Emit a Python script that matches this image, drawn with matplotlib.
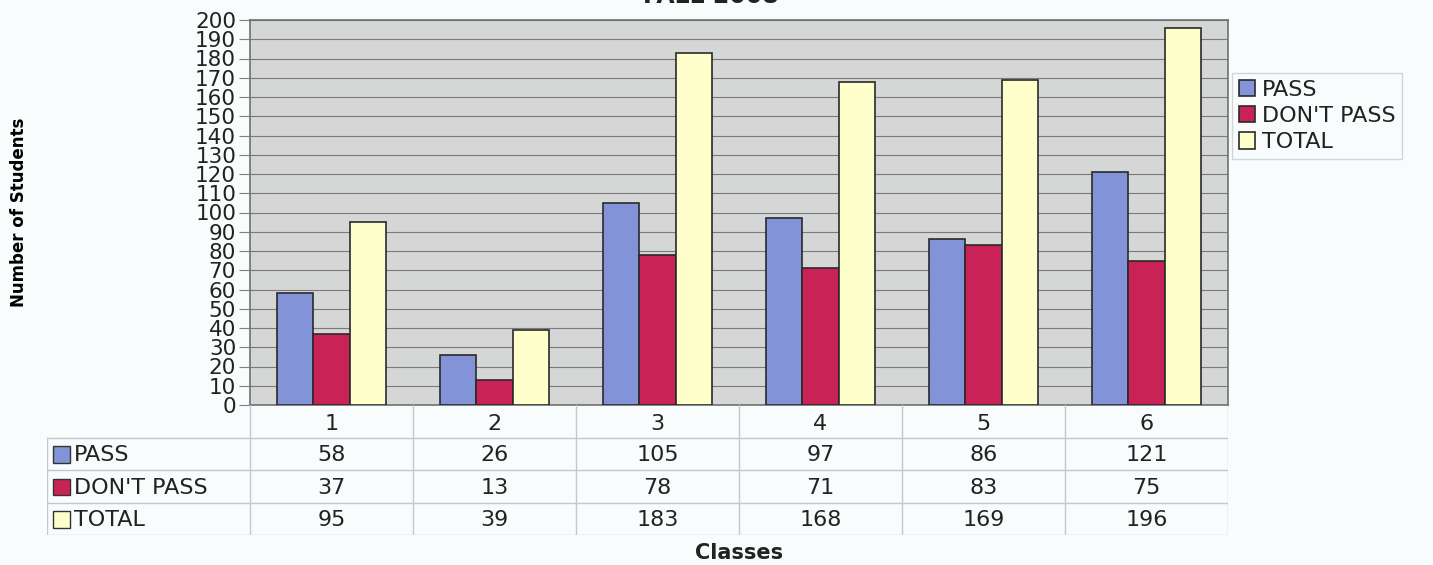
import numpy as np
import matplotlib.pyplot as plt
from matplotlib.patches import Rectangle

plt.rcParams['font.family'] = ['DejaVu Sans']

classes = ['1', '2', '3', '4', '5', '6']
series = ['PASS', "DON'T PASS", 'TOTAL']
passed = [58, 26, 105, 97, 86, 121]
not_passed = [37, 13, 78, 71, 83, 75]
total = [95, 39, 183, 168, 169, 196]
colors = ['#8393d8', '#c92257', '#ffffcc']

W, H = 1433, 565
fig = plt.figure(figsize=(W / 100, H / 100), dpi=100)
fig.patch.set_facecolor('#f9fcfd')
FS = 16

def box(x0, y0, x1, y1):
    # pixel box (top-left origin) -> figure fraction
    return [x0 / W, 1 - y1 / H, (x1 - x0) / W, (y1 - y0) / H]

# main bar chart
ax = fig.add_axes(box(250, 20, 1228, 405))
ax.set_facecolor('#d5d6d6')
x = np.arange(len(classes))
bw = 0.222
for i, (vals, c) in enumerate(zip([passed, not_passed, total], colors)):
    ax.bar(x + (i - 1) * bw, vals, bw, color=c, edgecolor='#2a2a2a',
           linewidth=1.2, label=series[i], zorder=3)
ax.set_xlim(-0.5, len(classes) - 0.5)
ax.set_ylim(0, 200)
ax.set_yticks(np.arange(0, 201, 10))
ax.tick_params(axis='y', labelsize=15.5, length=8, color='#808080',
               pad=2, labelcolor='#222222')
ax.set_xticks([])
ax.yaxis.grid(True, color='#7a7a7a', linewidth=0.8, zorder=0)
for s in ax.spines.values():
    s.set_color('#707070')
    s.set_linewidth(1.2)
ax.set_ylabel('Number of Students', fontsize=12, fontweight='bold',
              labelpad=0)
ax.yaxis.set_label_coords(-0.227, 0.5)

# data table under the chart
tax = fig.add_axes(box(47, 405, 1228, 535))
lab_w = (250 - 47) / ((1228 - 250) / len(classes))
tax.set_xlim(-0.5 - lab_w, len(classes) - 0.5)
tax.set_ylim(4, 0)
tax.axis('off')
line_kw = dict(color='#c4c8cc', linewidth=1.0)
left = -0.5 - lab_w
for r in range(1, 5):
    tax.plot([left, len(classes) - 0.5], [r, r], **line_kw)
for k in range(len(classes) + 1):
    tax.plot([k - 0.5, k - 0.5], [0, 4], **line_kw)
tax.plot([left, left], [1, 4], **line_kw)
for k, c in enumerate(classes):
    tax.text(k, 0.6, c, ha='center', va='center', fontsize=FS,
             color='#222222')
for r, (name, vals, c) in enumerate(zip(series, [passed, not_passed, total],
                                         colors)):
    y = r + 1.55
    tax.add_patch(Rectangle((left + 0.035, y - 0.28), 0.105, 0.5,
                            facecolor=c, edgecolor='#333333', linewidth=1.0))
    tax.text(left + 0.165, y, name, ha='left', va='center', fontsize=FS,
             color='#222222')
    for k, v in enumerate(vals):
        tax.text(k, y, str(v), ha='center', va='center', fontsize=FS,
                 color='#222222')

fig.text(739 / W, 1 - 553 / H, 'Classes', ha='center', va='center',
         fontsize=15, fontweight='bold', color='#222222')

fig.text(711 / W, 1 - 3 / H, 'FALL 2008', ha='center', va='baseline',
         fontsize=17, fontweight='bold', color='#222222')

leg = fig.legend(loc='upper left', bbox_to_anchor=(1232 / W, 1 - 73 / H),
                 fontsize=FS, frameon=True, fancybox=False,
                 handlelength=0.75, handleheight=0.75, handletextpad=0.3,
                 labelspacing=0.28, borderaxespad=0, borderpad=0.3)
leg.get_frame().set_edgecolor('#c8ccd0')
leg.get_frame().set_facecolor('#f9fcfd')
for t in leg.get_texts():
    t.set_color('#222222')

fig.savefig('out.png', dpi=100, facecolor=fig.get_facecolor())
